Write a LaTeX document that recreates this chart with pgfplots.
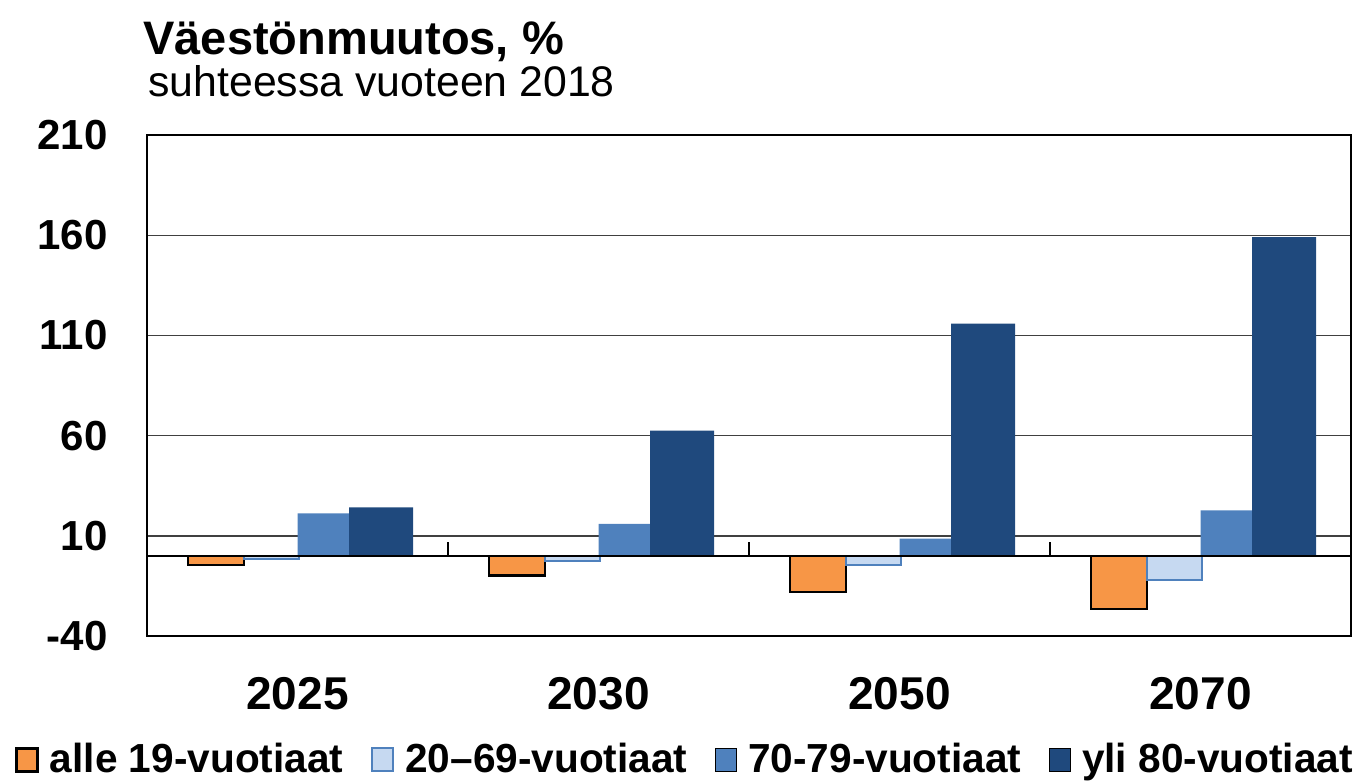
\documentclass[border=0pt]{standalone}
\usepackage{pgfplots}
\pgfplotsset{compat=1.18}
\usepackage{fontspec}
\setmainfont{Liberation Sans}

\definecolor{cOrange}{RGB}{247,150,70}
\definecolor{cLight}{RGB}{198,217,241}
\definecolor{cMid}{RGB}{79,129,189}
\definecolor{cDark}{RGB}{31,73,125}
\definecolor{cGrid}{RGB}{64,64,64}

\begin{document}
\begin{tikzpicture}
\useasboundingbox (0pt,0pt) rectangle (679.5pt,-390.5pt);
\node[anchor=base west, inner sep=0pt, font=\bfseries\fontsize{23.5}{28}\selectfont] at (71.5pt,-27.5pt) {Väestönmuutos, \%};
\node[anchor=base west, inner sep=0pt, font=\fontsize{21.4}{26}\selectfont] at (74pt,-48.5pt) {suhteessa vuoteen 2018};
\begin{axis}[
  at={(73.5pt,-67.5pt)}, anchor=north west,
  scale only axis, width=602pt, height=250.5pt,
  xmin=-0.5, xmax=3.5, ymin=-40, ymax=210,
  xtick={0,1,2,3}, xticklabels={2025,2030,2050,2070},
  ytick={-40,10,60,110,160,210},
  yticklabels={-40,10,60,110,160,210},
  major tick length=0pt,
  ymajorgrids, grid style={cGrid, line width=0.7pt},
  axis line style={black, line width=1pt},
  xticklabel style={font=\bfseries\fontsize{23}{27}\selectfont, anchor=north, inner sep=0pt, yshift=-20.5pt},
  yticklabel style={font=\bfseries\fontsize{21}{25}\selectfont, anchor=east, inner sep=0pt, xshift=-19.5pt},
  legend columns=4,
  legend image code/.code={\draw[#1] (0pt,-6pt) rectangle (10.5pt,5.5pt);},
  legend style={at={(axis description cs:0,0)}, anchor=south west,
    xshift=-66pt, yshift=-70pt, draw=none, fill=none, inner sep=0pt,
    nodes={inner sep=0pt},
    font=\bfseries\fontsize{20.3}{24}\selectfont,
    /tikz/every odd column/.append style={column sep=5.5pt},
    /tikz/every even column/.append style={column sep=14pt}},
]
% under 19
\addplot[ybar, bar width=28pt, bar shift=-40.75pt, fill=cOrange, draw=black, line width=1.3pt]
  coordinates {(0,-4.6) (1,-9.8) (2,-18.1) (3,-26.5)};
% 20-69
\addplot[ybar, bar width=27.5pt, bar shift=-13pt, fill=cLight, draw=cMid, line width=1pt]
  coordinates {(0,-1.7) (1,-2.5) (2,-4.5) (3,-12)};
% 70-79
\addplot[ybar, bar width=27.5pt, bar shift=13.75pt, fill=cMid, draw=none]
  coordinates {(0,21.2) (1,15.9) (2,8.6) (3,22.7)};
% 80+
\addplot[ybar, bar width=32pt, bar shift=41.75pt, fill=cDark, draw=none]
  coordinates {(0,24.2) (1,62.5) (2,115.9) (3,159)};
% zero line and category separators
\addplot[black, line width=1.2pt, forget plot] coordinates {(-0.5,0) (3.5,0)};
\addplot[black, line width=1.2pt, forget plot] coordinates {(0.5,0) (0.5,7)};
\addplot[black, line width=1.2pt, forget plot] coordinates {(1.5,0) (1.5,7)};
\addplot[black, line width=1.2pt, forget plot] coordinates {(2.5,0) (2.5,7)};
\legend{alle 19-vuotiaat, 20--69-vuotiaat, 70-79-vuotiaat, yli 80-vuotiaat}
\end{axis}
\end{tikzpicture}
\end{document}
